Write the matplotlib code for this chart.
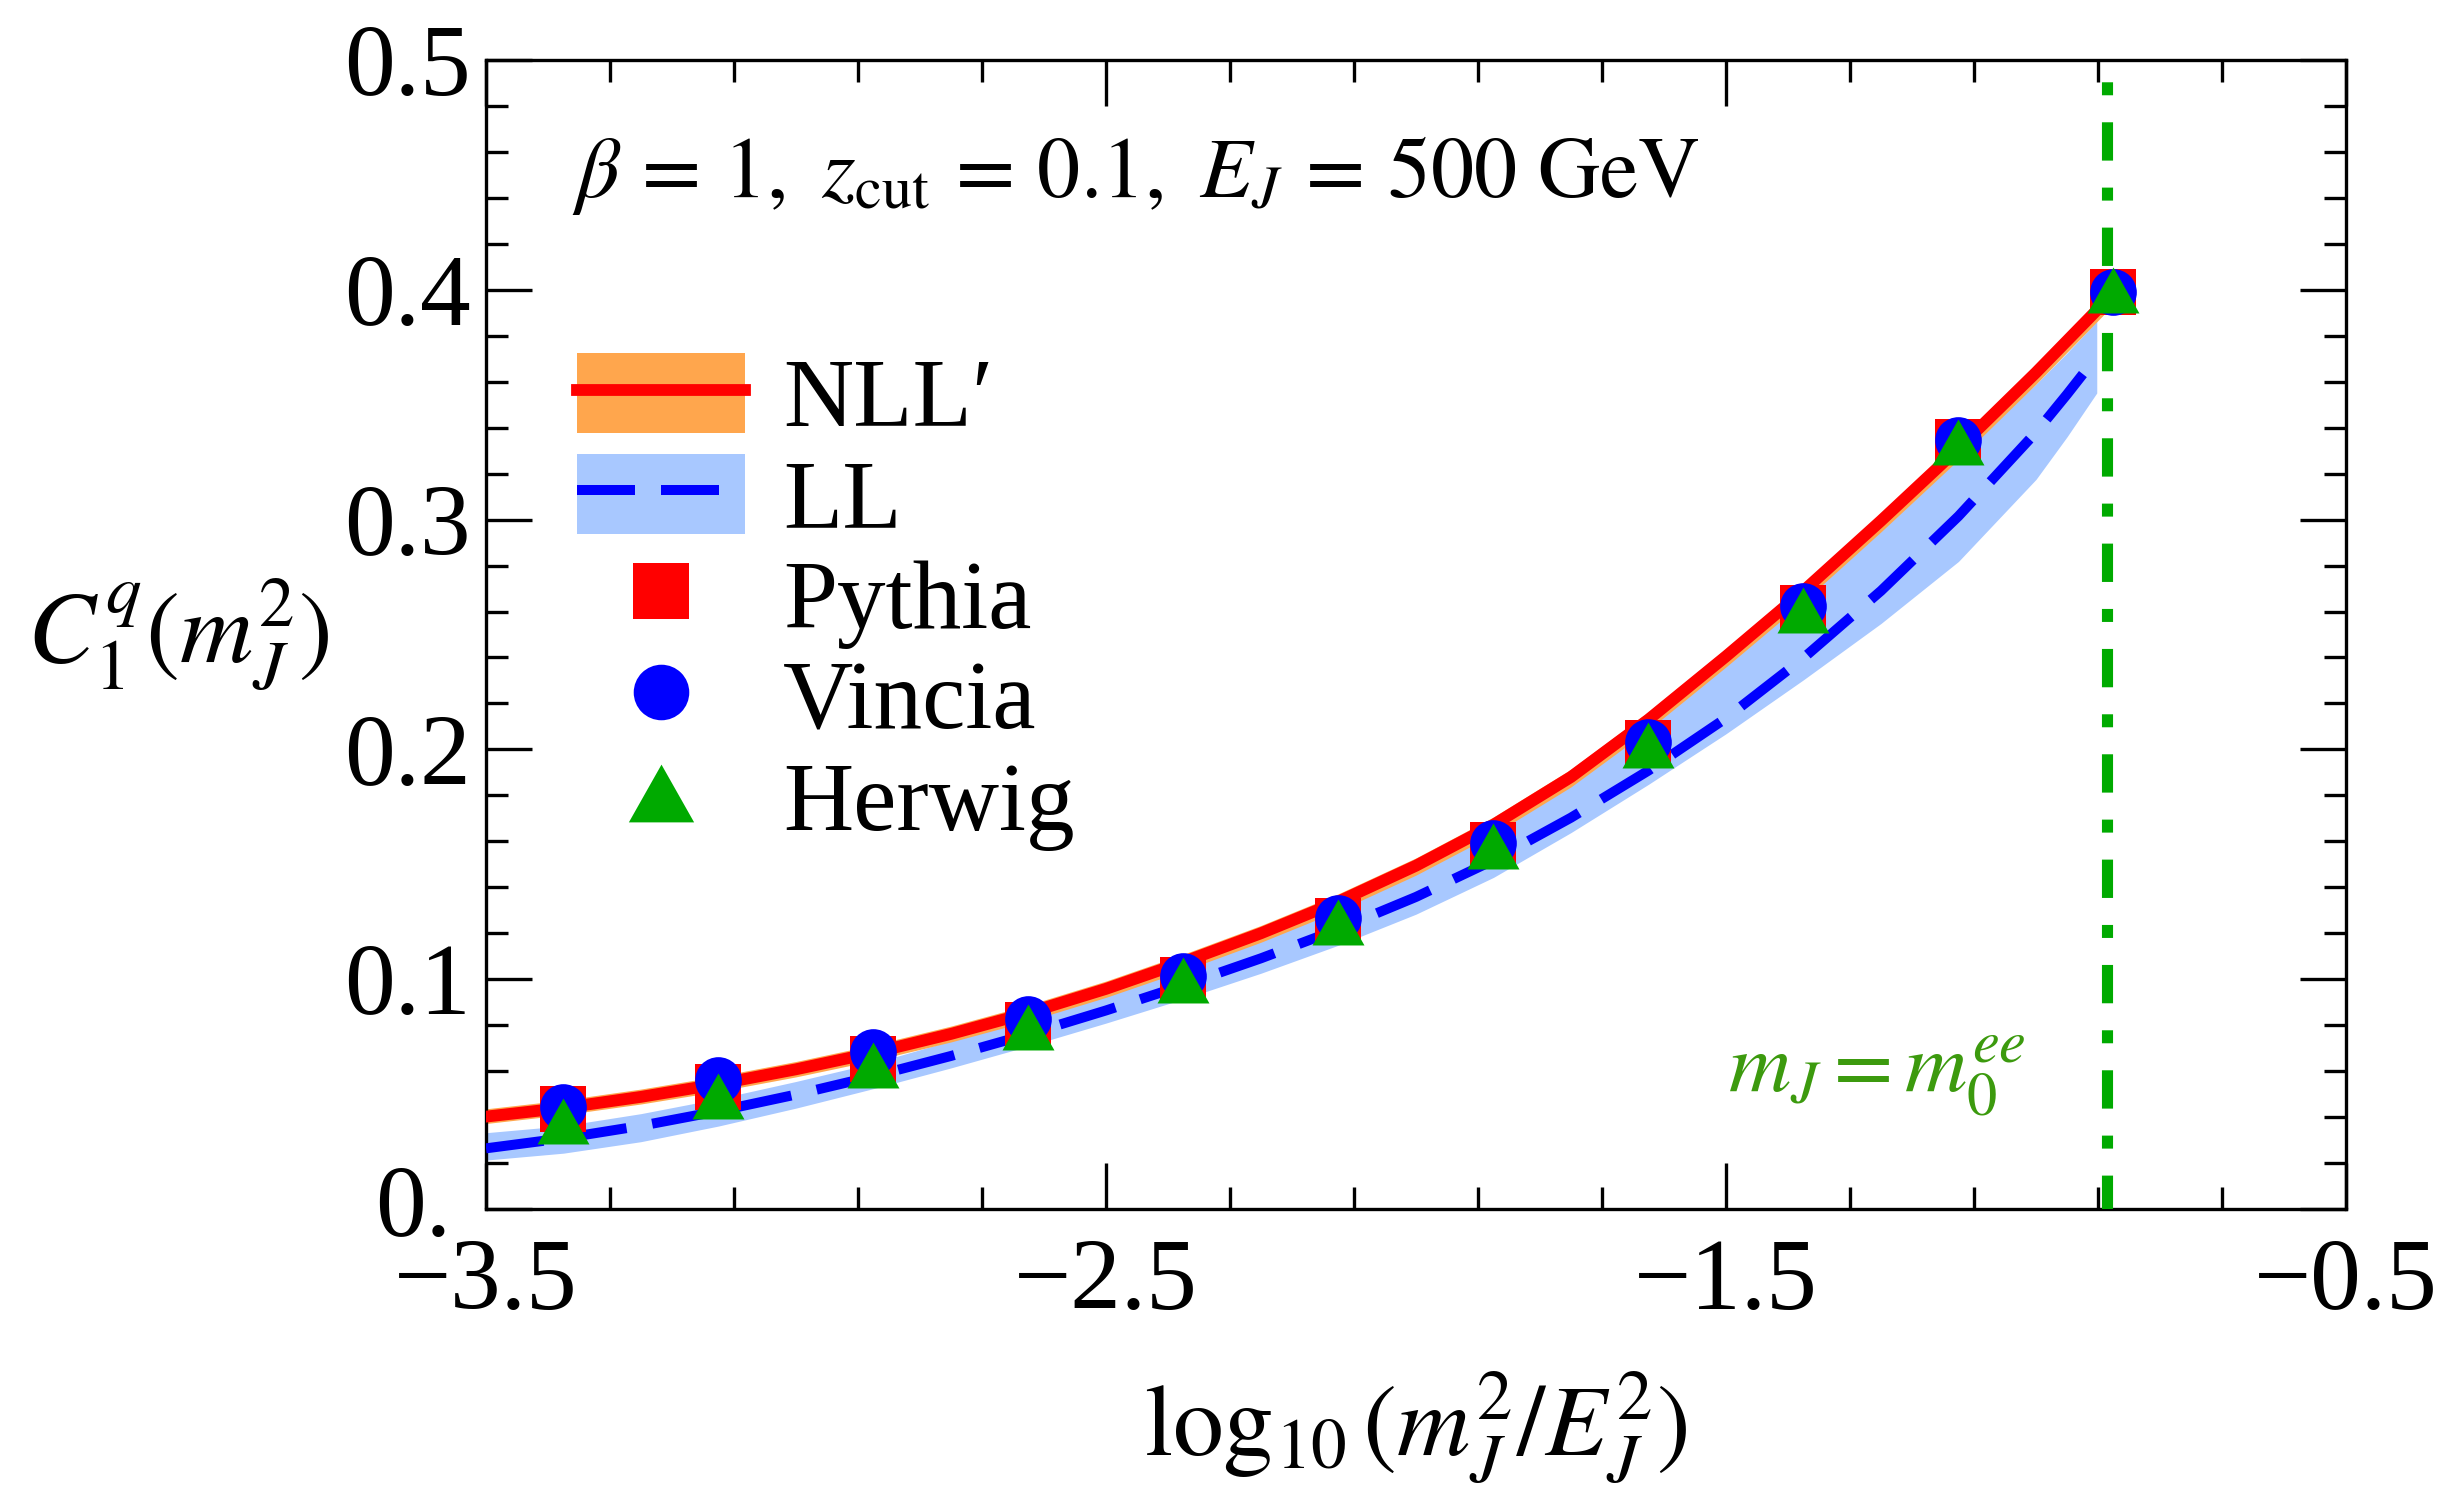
import matplotlib.pyplot as plt
from matplotlib.patches import Patch
from matplotlib.lines import Line2D
from matplotlib.ticker import MultipleLocator, FixedLocator
from matplotlib.transforms import offset_copy

plt.rcParams['font.family'] = ['Liberation Serif', 'DejaVu Serif']
plt.rcParams['mathtext.fontset'] = 'stix'

# --- data ---
# NLL' central curve and its (narrow) band
x_nll = [-3.5, -3.375, -3.25, -3.125, -3.0, -2.875, -2.75, -2.625, -2.5, -2.375, -2.25,
         -2.125, -2.0, -1.875, -1.75, -1.625, -1.5, -1.375, -1.25, -1.125, -1.0, -0.877]
nll = [0.0402, 0.0440, 0.0488, 0.0544, 0.0608, 0.0680, 0.0762, 0.0854, 0.0958, 0.1075, 0.1200,
       0.1338, 0.1494, 0.1672, 0.1880, 0.2130, 0.2405, 0.2690, 0.2995, 0.3310, 0.3640, 0.3980]
nll_hi = [0.0436, 0.0474, 0.0522, 0.0578, 0.0642, 0.0714, 0.0796, 0.0888, 0.0992, 0.1109, 0.1234,
          0.1372, 0.1528, 0.1706, 0.1914, 0.2164, 0.2439, 0.2724, 0.3029, 0.3344, 0.3674, 0.4014]
nll_lo = [0.0372, 0.0410, 0.0457, 0.0512, 0.0575, 0.0646, 0.0727, 0.0818, 0.0921, 0.1037, 0.1161,
          0.1298, 0.1453, 0.1630, 0.1837, 0.2085, 0.2359, 0.2643, 0.2947, 0.3261, 0.3590, 0.3930]

# LL central curve and band
x_ll = [-3.5, -3.375, -3.25, -3.125, -3.0, -2.875, -2.75, -2.625, -2.5, -2.375, -2.25,
        -2.125, -2.0, -1.875, -1.75, -1.625, -1.5, -1.375, -1.25, -1.125, -1.0, -0.95, -0.902]
ll = [0.0264, 0.0308, 0.0362, 0.0426, 0.0498, 0.0578, 0.0666, 0.0761, 0.0864, 0.0974, 0.1091,
      0.1218, 0.1358, 0.1518, 0.1703, 0.1908, 0.2136, 0.2398, 0.2690, 0.3015, 0.3380, 0.3545, 0.3710]
ll_hi = [0.0332, 0.0362, 0.0415, 0.0480, 0.0555, 0.0635, 0.0732, 0.0824, 0.0928, 0.1045, 0.1170,
         0.1308, 0.1464, 0.1642, 0.1850, 0.2100, 0.2375, 0.2660, 0.2965, 0.3280, 0.3590, 0.3725, 0.3863]
ll_lo = [0.0213, 0.0243, 0.0293, 0.0361, 0.0439, 0.0524, 0.0614, 0.0709, 0.0809, 0.0914, 0.1026,
         0.1148, 0.1283, 0.1443, 0.1638, 0.1848, 0.2068, 0.2303, 0.2548, 0.2818, 0.3175, 0.3360, 0.3551]

# Monte Carlo points
x_mc = [-3.375, -3.125, -2.875, -2.625, -2.375, -2.125, -1.875, -1.625, -1.375, -1.125, -0.876]
pythia = [0.0434, 0.0533, 0.0652, 0.0801, 0.0997, 0.1255, 0.1586, 0.2029, 0.2615, 0.3339, 0.3989]
vincia = [0.0445, 0.0562, 0.0682, 0.0826, 0.1014, 0.1265, 0.1593, 0.2034, 0.2624, 0.3345, 0.3992]
herwig = [0.0382, 0.0493, 0.0627, 0.0794, 0.0997, 0.1251, 0.1579, 0.2020, 0.2608, 0.3339, 0.3999]

x_m0 = -0.886  # m_J = m_0^ee

x_major = [-3.5, -2.5, -1.5, -0.5]
x_labels = ['\u22123.5', '\u22122.5', '\u22121.5', '\u22120.5']
y_major = [0.0, 0.1, 0.2, 0.3, 0.4, 0.5]
y_labels = ['0.', '0.1', '0.2', '0.3', '0.4', '0.5']

c_orange = '#ffa64d'
c_lblue = '#a8c8ff'
c_red = '#ff0000'
c_blue = '#0000ff'
c_green = '#00aa00'
tri = [(0, 1), (-1.13, -1), (1.13, -1)]

fig = plt.figure(figsize=(24.44, 14.87), dpi=100)
ax = fig.add_axes([0.19885, 0.18695, 0.76105, 0.7727])

ax.fill_between(x_ll, ll_lo, ll_hi, color=c_lblue, lw=0, zorder=1)
ax.fill_between(x_nll, nll_lo, nll_hi, color=c_orange, lw=0, zorder=2)
ax.plot(x_ll, ll, color=c_blue, lw=7.2, ls=(0, (5.8, 2.6)), zorder=3)
ax.plot(x_nll, nll, color=c_red, lw=8.5, zorder=4)
ax.axvline(x_m0, color=c_green, lw=8, ls=(0.4, (3.45, 2.43, 1.17, 2.43)), zorder=3)

ax.plot(x_mc, pythia, ls='none', marker='s', color=c_red, ms=33.6, mew=0, zorder=5)
ax.plot(x_mc, vincia, ls='none', marker='o', color=c_blue, ms=33.6, mew=0, zorder=6)
ax.plot(x_mc, herwig, ls='none', marker=tri, color=c_green, ms=37.4, mew=0, zorder=7)

ax.set_xlim(-3.5, -0.5)
ax.set_ylim(0, 0.5)
ax.xaxis.set_major_locator(FixedLocator(x_major))
ax.xaxis.set_minor_locator(MultipleLocator(0.2, offset=0.1))
ax.set_xticklabels(x_labels)
ax.yaxis.set_major_locator(FixedLocator(y_major))
ax.yaxis.set_minor_locator(MultipleLocator(0.02))
ax.set_yticklabels(y_labels)

ax.tick_params(which='both', direction='in', top=True, right=True, width=2.4, labelsize=73)
ax.tick_params(which='major', length=33)
ax.tick_params(which='minor', length=16)
ax.tick_params(axis='x', pad=21)
ax.tick_params(axis='y', pad=10.8)
for s in ax.spines.values():
    s.set_linewidth(2.4)

# the "0." label sits a little left and up, as in the original
zero_lab = ax.yaxis.get_major_ticks()[0].label1
zero_lab.set_transform(offset_copy(zero_lab.get_transform(), fig=fig, x=-20, y=8, units='dots'))

ax.set_xlabel(r'$\log_{10}(m_J^2/E_J^2)$', fontsize=73, va='center')
ax.xaxis.set_label_coords(0.5, -0.19)
ax.set_ylabel(r'$C_1^q(m_J^2)$', fontsize=73, rotation=0, va='center', ha='center')
ax.yaxis.set_label_coords(-0.1656, 0.5)

ax.text(0.046, 0.881, r'$\beta\,=\,1,\ z_{\rm cut}\,=\,0.1,\ E_J\,=\,500\ {\rm GeV}$',
        transform=ax.transAxes, fontsize=62, va='baseline')
ax.text(0.828, 0.1018, r'$m_J = m_0^{ee}$', transform=ax.transAxes, fontsize=62,
        color='#3c9a0e', ha='right', va='baseline')

handles = [
    (Patch(fc=c_orange, ec='none'), Line2D([], [], color=c_red, lw=8.5)),
    (Patch(fc=c_lblue, ec='none'), Line2D([], [], color=c_blue, lw=7.2, ls=(0, (5.8, 2.6)))),
    Line2D([], [], ls='none', marker='s', color=c_red, ms=41, mew=0),
    Line2D([], [], ls='none', marker='o', color=c_blue, ms=40, mew=0),
    Line2D([], [], ls='none', marker=tri, color=c_green, ms=47, mew=0),
]
labels = ['NLL\u2032', 'LL', 'Pythia', 'Vincia', 'Herwig']
ax.legend(handles, labels, loc='upper left', bbox_to_anchor=(0.049, 0.745), frameon=False,
          fontsize=70, handlelength=1.73, handleheight=0.885, handletextpad=0.39,
          labelspacing=0.065, borderpad=0, borderaxespad=0)

fig.savefig('out.png', dpi=100)
